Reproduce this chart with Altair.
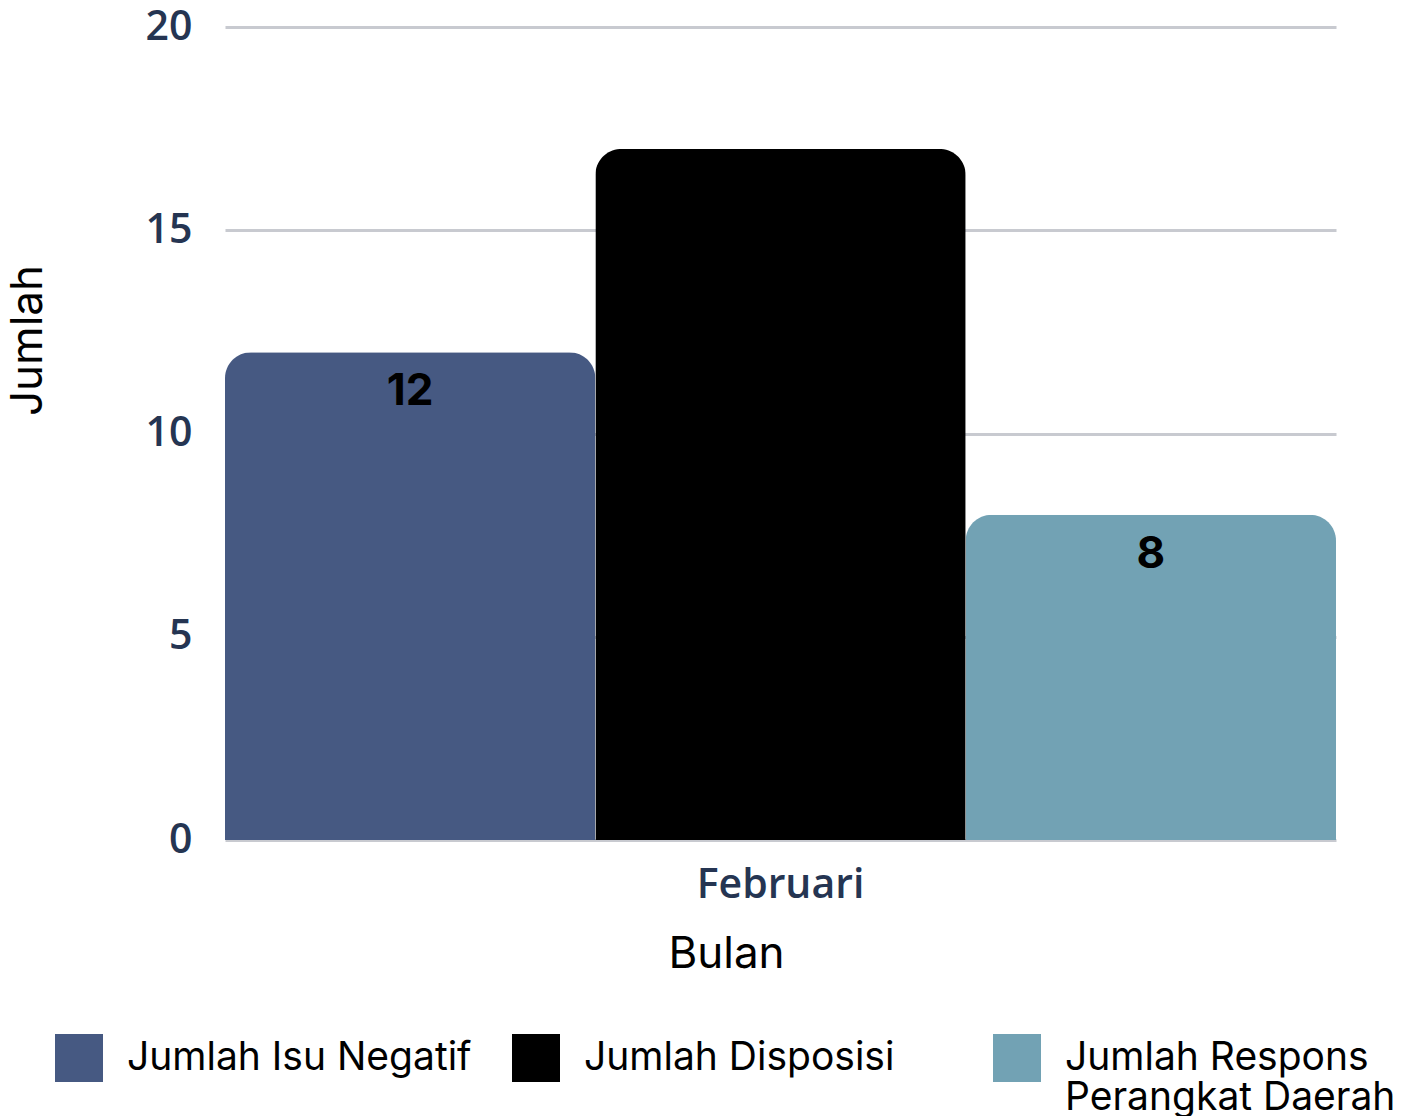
import altair as alt
import pandas as pd

months = ["Februari", "Februari", "Februari"]
series = ["Jumlah Isu Negatif", "Jumlah Disposisi", "Jumlah Respons Perangkat Daerah"]
values = [12, 17, 8]
colors = ["#465982", "#000000", "#72A2B4"]

df = pd.DataFrame({"Bulan": months, "Seri": series, "Jumlah": values})

label_expr = (
    "datum.label == 'Jumlah Respons Perangkat Daerah' ? ['Jumlah Respons', 'Perangkat Daerah'] : "
    "datum.label == 'Jumlah Disposisi' ? ['Jumlah Disposisi\u2800\u2800', ''] : "
    "[datum.label, '']"
)

x = alt.X("Bulan:N", scale=alt.Scale(paddingInner=0, paddingOuter=0),
          axis=alt.Axis(title="Bulan", labelAngle=0, labelFont="Open Sans", labelFontSize=41,
                        labelFontWeight=600, labelColor="#253552", labelPadding=25,
                        domain=False, ticks=False, grid=False,
                        titleFont="Inter", titleFontSize=44, titleFontWeight="normal",
                        titleColor="#000000", titleX=501, titleY=114, titleBaseline="middle",
                        titleAlign="center"))
y = alt.Y("Jumlah:Q", scale=alt.Scale(domain=[0, 20], nice=False),
          axis=alt.Axis(title="Jumlah", values=[0, 5, 10, 15, 20], labelFont="Open Sans",
                        labelFontSize=41, labelFontWeight=600, labelColor="#253552",
                        labelPadding=33, domain=False, ticks=False,
                        gridColor="#C8CAD0", gridWidth=3,
                        titleFont="Inter", titleFontSize=44, titleFontWeight="normal",
                        titleColor="#000000", titleAngle=-90, titleX=-197, titleY=313,
                        titleAlign="center", titleBaseline="middle"))
xo = alt.XOffset("Seri:N", sort=series)
color = alt.Color("Seri:N", sort=series, scale=alt.Scale(domain=series, range=colors),
                  legend=alt.Legend(title=None, orient="none", legendX=-170, legendY=1007,
                                    direction="horizontal", columns=3, columnPadding=40,
                                    symbolType="square", symbolSize=2304, symbolStrokeWidth=0,
                                    symbolOpacity=1, padding=0,
                                    labelFont="Inter", labelFontSize=39, labelColor="#000000",
                                    labelOffset=24, labelLimit=600, labelBaseline="middle",
                                    labelExpr=label_expr))

bars = alt.Chart(df).mark_bar(cornerRadiusTopLeft=26, cornerRadiusTopRight=26).encode(
    x=x, xOffset=xo, y=y, color=color)
labels = alt.Chart(df).mark_text(font="Inter", fontSize=44, fontWeight="bold", color="#000000",
                                 baseline="middle", dy=40).encode(
    x=alt.X("Bulan:N"), xOffset=xo, y=alt.Y("Jumlah:Q"), text="Jumlah:Q")

chart = alt.layer(bars, labels).properties(
    width=1111, height=813,
    autosize=alt.AutoSizeParams(type="none"),
    padding={"left": 217, "top": 19, "right": 69, "bottom": 276},
).configure(style={"guide-label": {"lineHeight": 40}}).configure_view(stroke=None)

chart.save("out.html", embed_options={"renderer": "svg", "actions": False})
